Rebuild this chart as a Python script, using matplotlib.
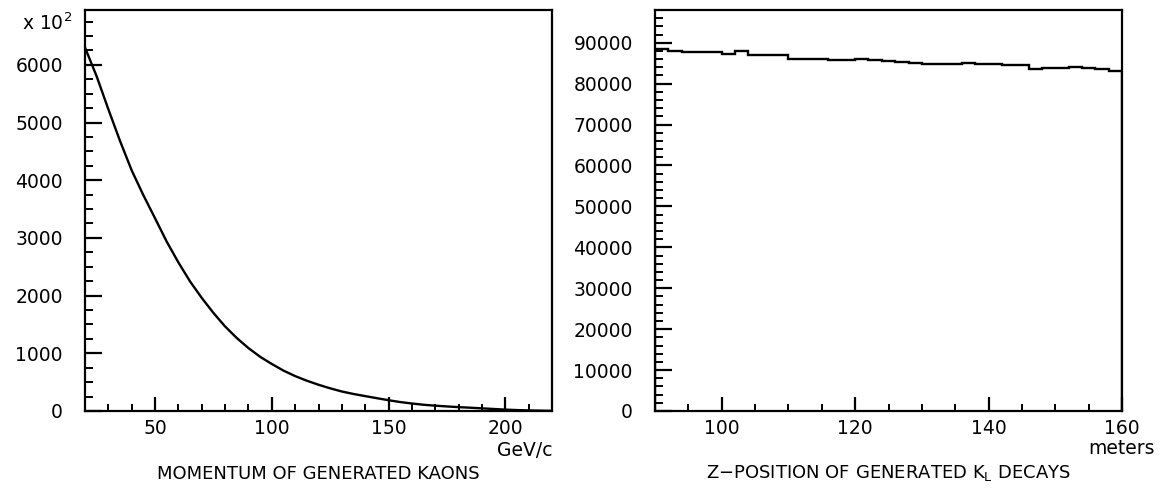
import numpy as np
import matplotlib
matplotlib.use("Agg")
import matplotlib.pyplot as plt
from matplotlib.ticker import MultipleLocator, FixedLocator

# ---- Left panel: momentum of generated kaons (units of x10^2) ----
momentum = [20, 25, 30, 35, 40, 45, 50, 55, 60, 65, 70, 75, 80, 85, 90, 95,
            100, 105, 110, 115, 120, 125, 130, 135, 140, 145, 150, 155, 160,
            165, 170, 175, 180, 185, 190, 195, 200, 205, 210, 215, 220]
counts_p = [6300, 5800, 5230, 4680, 4170, 3740, 3340, 2935, 2575, 2245, 1960,
            1700, 1465, 1265, 1090, 940, 815, 700, 605, 525, 455, 393, 338,
            295, 258, 222, 187, 155, 130, 108, 92, 79, 67, 57, 46, 35, 24,
            16, 10, 6, 3]

# ---- Right panel: Z-position of generated K_L decays ----
z_edges = list(range(90, 162, 2))
counts_z = [88400, 87900, 87800, 87800, 87700, 87300, 87900, 86900, 86900,
            87100, 86000, 86100, 86000, 85900, 85800, 86000, 85800, 85500,
            85200, 85000, 84900, 84700, 84900, 85000, 84800, 84700, 84600,
            84600, 83600, 83800, 83900, 84000, 83800, 83500, 83200]

left_xticks = [50, 100, 150, 200]
right_xticks = [100, 120, 140, 160]

W, H = 1168, 491
fig = plt.figure(figsize=(W / 100, H / 100), dpi=100)
plt.rcParams['font.family'] = ['DejaVu Sans']

FS = 13.5

def style(ax):
    for s in ax.spines.values():
        s.set_linewidth(1.6)
    ax.tick_params(which='major', direction='in', length=12, width=1.6,
                   labelsize=FS, top=False, right=False)
    ax.tick_params(which='minor', direction='in', length=6, width=1.4,
                   top=False, right=False)
    ax.tick_params(axis='x', which='major', length=10)
    ax.tick_params(axis='x', which='minor', length=5)
    ax.tick_params(axis='y', which='major', pad=16)
    ax.tick_params(axis='x', which='major', pad=6)

ax1 = fig.add_axes([85 / W, (H - 411) / H, 467 / W, 401 / H])
ax1.plot(momentum, counts_p, color='black', lw=1.7)
ax1.set_xlim(20, 220)
ax1.set_ylim(0, 6950)
ax1.xaxis.set_major_locator(FixedLocator(left_xticks))
ax1.xaxis.set_minor_locator(MultipleLocator(10))
ax1.yaxis.set_major_locator(MultipleLocator(1000))
ax1.yaxis.set_minor_locator(MultipleLocator(250))
style(ax1)

ax2 = fig.add_axes([655 / W, (H - 411) / H, 467 / W, 401 / H])
ax2.stairs(counts_z, z_edges, color='black', lw=1.7)
ax2.set_xlim(90, 160)
ax2.set_ylim(0, 98000)
ax2.xaxis.set_major_locator(FixedLocator(right_xticks))
ax2.xaxis.set_minor_locator(MultipleLocator(5))
ax2.yaxis.set_major_locator(MultipleLocator(10000))
ax2.yaxis.set_minor_locator(MultipleLocator(2000))
style(ax2)

fig.text(22 / W, 1 - 23 / H, r"x 10$^{2}$", fontsize=FS, va='center', ha='left')

fig.text(552 / W, 1 - 450 / H, "GeV/c", fontsize=FS, ha='right', va='center')
fig.text(1155 / W, 1 - 448 / H, "meters", fontsize=FS, ha='right', va='center')

fig.text(318 / W, 1 - 474 / H, "MOMENTUM OF GENERATED KAONS", fontsize=FS - 0.5,
         ha='center', va='center')
fig.text(888 / W, 1 - 473 / H, r"Z$-$POSITION OF GENERATED K$_\mathrm{L}$ DECAYS",
         fontsize=FS - 0.5, ha='center', va='center')

fig.savefig("out.png", dpi=100)
